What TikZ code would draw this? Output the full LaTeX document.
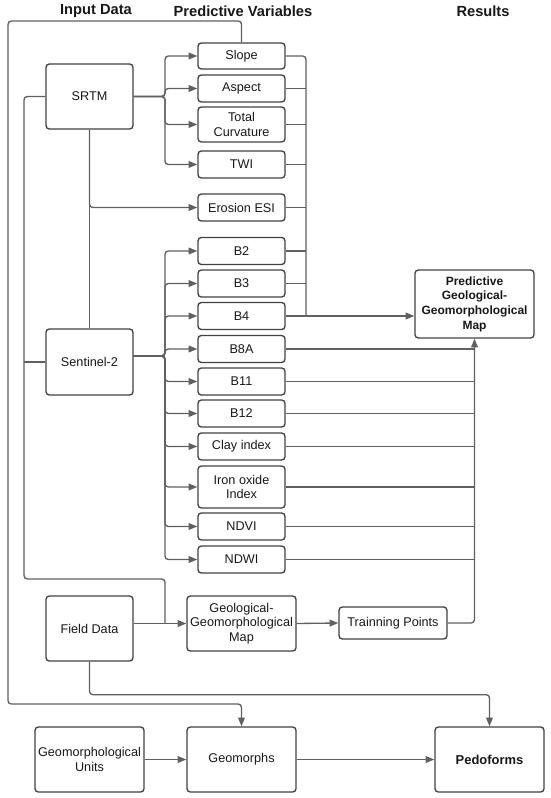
\documentclass[tikz,border=0pt]{standalone}
\usepackage{fontspec}
\setmainfont{Liberation Sans}
\usetikzlibrary{arrows.meta}

\definecolor{lineGray}{RGB}{96,96,96}
\definecolor{boxGray}{RGB}{66,66,66}
\definecolor{textBlack}{RGB}{24,24,24}

\tikzset{every picture/.style={line width=1pt}}
\tikzset{
  box/.style={draw=boxGray, rounded corners=2.5pt, align=center, inner sep=1.5pt, text=textBlack, font=\fontsize{9.5}{11}\selectfont},
  databox/.style={box, minimum width=65.25pt, minimum height=48.75pt},
  varbox/.style={box, minimum width=65.25pt, minimum height=20.25pt},
  mapbox/.style={box, minimum width=81.75pt, minimum height=48.75pt},
  title/.style={font=\bfseries\fontsize{11}{13}\selectfont, text=textBlack},
  link/.style={draw=lineGray, rounded corners=2.5pt},
  arr/.style={link, -{Triangle[length=6.5pt,width=5pt]}},
}

\begin{document}
\begin{tikzpicture}[x=0.75pt,y=0.75pt,yscale=-1,xscale=1]
\useasboundingbox (0,0) rectangle (550,798);

% Text Node
\draw (96,11) node [title] (tin) {Input Data};
% Text Node
\draw (243,11) node [title] (tvar) {Predictive Variables};
% Text Node
\draw (483,11) node [title] (tres) {Results};

%Shape: Rectangle [input data]
\draw (89.5,96.5) node [databox] (srtm) {SRTM};
\draw (89.5,362) node [databox, minimum height=49.5pt] (sentinel) {Sentinel-2};
\draw (89.5,628.5) node [databox] (field) {Field Data};
\draw (89.5,759.5) node [mapbox] (units) {Geomorphological\\Units};

%Shape: Rectangle [predictive variables]
\draw (241.5,56) node [varbox, minimum height=19.5pt] (slope) {Slope};
\draw (241.5,88.5) node [varbox] (aspect) {Aspect};
\draw (241.5,124.5) node [varbox, minimum height=26.25pt] (curv) {Total\\Curvature};
\draw (241.5,164.5) node [varbox] (twi) {TWI};
\draw (241.5,207.5) node [varbox] (esi) {Erosion ESI};
\draw (241.5,251) node [varbox] (b2) {B2};
\draw (241.5,283.5) node [varbox] (b3) {B3};
\draw (241.5,316) node [varbox] (b4) {B4};
\draw (241.5,349) node [varbox] (b8a) {B8A};
\draw (241.5,381.5) node [varbox] (b11) {B11};
\draw (241.5,413.5) node [varbox] (b12) {B12};
\draw (241.5,446.5) node [varbox] (clay) {Clay index};
\draw (241.5,487) node [varbox, minimum height=31.5pt] (iron) {Iron oxide\\Index};
\draw (241.5,526.5) node [varbox] (ndvi) {NDVI};
\draw (241.5,559.5) node [varbox] (ndwi) {NDWI};

%Shape: Rectangle [maps and results]
\draw (241.5,623.5) node [mapbox, minimum height=41.25pt] (geomap) {Geological-\\Geomorphological\\Map};
\draw (393,623) node [box, minimum width=81pt, minimum height=24pt] (train) {Trainning Points};
\draw (474.5,304) node [box, minimum width=89.25pt, minimum height=51pt, font=\bfseries\fontsize{9}{11}\selectfont] (pmap) {Predictive\\Geological-\\Geomorphological\\Map};
\draw (241.5,759.5) node [mapbox] (geomorphs) {Geomorphs};
\draw (489.5,759.5) node [mapbox, font=\bfseries\fontsize{9.7}{11}\selectfont] (pedoforms) {Pedoforms};

\coordinate (fork) at (165,0);
\coordinate (rfork) at (306,0);
\coordinate (lbus) at (24,579);
\coordinate (loopTop) at (8,21);
\coordinate (loopBot) at (8,704);

%Straight Lines [SRTM branches]
\draw [arr] (srtm.east) -- (srtm.east -| fork) |- (slope.west);
\draw [arr] (srtm.east) -- (srtm.east -| fork) |- (aspect.west);
\draw [arr] (srtm.east) -- (srtm.east -| fork) |- (curv.west);
\draw [arr] (srtm.east) -- (srtm.east -| fork) |- (twi.west);
\draw [link] (srtm.south) -- (sentinel.north);
\draw [arr] (srtm.south) |- (esi.west);

%Straight Lines [Sentinel-2 branches]
\draw [arr] ([yshift=-4.5pt]sentinel.east) -- ([yshift=-4.5pt]sentinel.east -| fork) |- (b2.west);
\draw [arr] ([yshift=-4.5pt]sentinel.east) -- ([yshift=-4.5pt]sentinel.east -| fork) |- (b3.west);
\draw [arr] ([yshift=-4.5pt]sentinel.east) -- ([yshift=-4.5pt]sentinel.east -| fork) |- (b4.west);
\draw [arr] ([yshift=-4.5pt]sentinel.east) -- ([yshift=-4.5pt]sentinel.east -| fork) |- (b8a.west);
\draw [arr] ([yshift=-4.5pt]sentinel.east) -- ([yshift=-4.5pt]sentinel.east -| fork) |- (b11.west);
\draw [arr] ([yshift=-4.5pt]sentinel.east) -- ([yshift=-4.5pt]sentinel.east -| fork) |- (b12.west);
\draw [arr] ([yshift=-4.5pt]sentinel.east) -- ([yshift=-4.5pt]sentinel.east -| fork) |- (clay.west);
\draw [arr] ([yshift=-4.5pt]sentinel.east) -- ([yshift=-4.5pt]sentinel.east -| fork) |- (iron.west);
\draw [arr] ([yshift=-4.5pt]sentinel.east) -- ([yshift=-4.5pt]sentinel.east -| fork) |- (ndvi.west);
\draw [arr] ([yshift=-4.5pt]sentinel.east) -- ([yshift=-4.5pt]sentinel.east -| fork) |- (ndwi.west);

%Straight Lines [first collector]
\draw [link] (slope.east) -| (rfork |- b4.east);
\draw [link] (aspect.east) -- (aspect.east -| rfork);
\draw [link] (curv.east) -- (curv.east -| rfork);
\draw [link] (twi.east) -- (twi.east -| rfork);
\draw [link] (esi.east) -- (esi.east -| rfork);
\draw [link] (b2.east) -- (b2.east -| rfork);
\draw [link] (b3.east) -- (b3.east -| rfork);
\draw [arr] (b4.east) -- (b4.east -| pmap.west);

%Straight Lines [second collector]
\draw [arr] (train.east) -| (pmap.south);
\draw [link] (b8a.east) -- (b8a.east -| pmap.south);
\draw [link] (b11.east) -- (b11.east -| pmap.south);
\draw [link] (b12.east) -- (b12.east -| pmap.south);
\draw [link] (clay.east) -- (clay.east -| pmap.south);
\draw [link] (iron.east) -- (iron.east -| pmap.south);
\draw [link] (ndvi.east) -- (ndvi.east -| pmap.south);
\draw [link] (ndwi.east) -- (ndwi.east -| pmap.south);

%Straight Lines [outer loop]
\draw [arr] (slope.north) |- (loopTop) -- (loopBot) -| (geomorphs.north);

%Straight Lines [left bus]
\draw [link] (srtm.west) -| (lbus) -| (geomap.west -| fork);
\draw [link] (sentinel.west) -- (sentinel.west -| lbus);
\draw [arr] (field.east |- geomap.west) -- (geomap.west);
\draw [arr] (geomap.east) -- (train.west);

%Straight Lines [bottom row]
\draw [arr] (field.south) -- ++(0,33) -| (pedoforms.north);
\draw [arr] (units.east) -- (geomorphs.west);
\draw [arr] (geomorphs.east) -- (pedoforms.west);

\end{tikzpicture}
\end{document}
